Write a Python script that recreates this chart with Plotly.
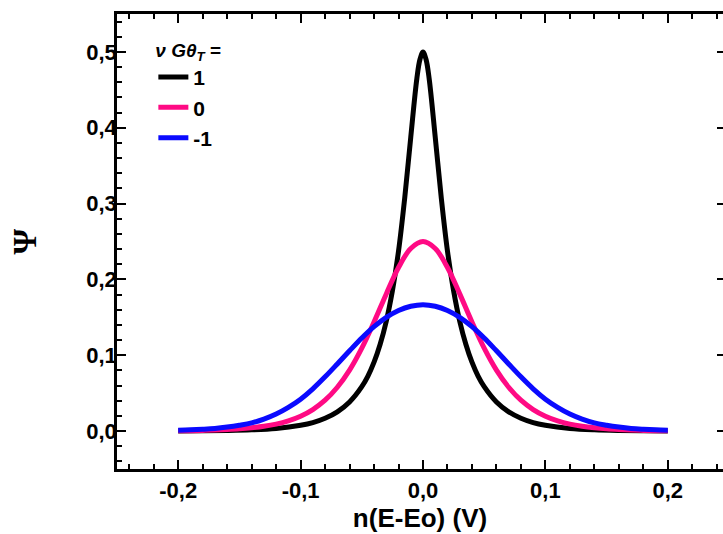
import plotly.graph_objects as go

# ---- data ----
x_black = [-0.20, -0.18, -0.16, -0.14, -0.12, -0.10, -0.09, -0.08, -0.07, -0.06, -0.05,
           -0.045, -0.04, -0.035, -0.03, -0.025, -0.02, -0.015, -0.01, -0.005, -0.0025, 0.0,
           0.0025, 0.005, 0.01, 0.015, 0.02, 0.025, 0.03, 0.035, 0.04, 0.045,
           0.05, 0.06, 0.07, 0.08, 0.09, 0.10, 0.12, 0.14, 0.16, 0.18, 0.20]
y_black = [0.00015, 0.00034, 0.00073, 0.0016, 0.0035, 0.0077, 0.0112, 0.0169, 0.0254, 0.0384, 0.0586,
           0.0726, 0.0909, 0.1145, 0.1449, 0.1851, 0.2373, 0.3065, 0.3875, 0.4652, 0.490, 0.500,
           0.490, 0.4652, 0.3875, 0.3065, 0.2373, 0.1851, 0.1449, 0.1145, 0.0909, 0.0726,
           0.0586, 0.0384, 0.0254, 0.0169, 0.0112, 0.0077, 0.0035, 0.0016, 0.00073, 0.00034, 0.00015]

x_grid = [-0.20, -0.19, -0.18, -0.17, -0.16, -0.15, -0.14, -0.13, -0.12, -0.11, -0.10,
          -0.09, -0.08, -0.07, -0.06, -0.05, -0.04, -0.03, -0.02, -0.01, 0.0,
          0.01, 0.02, 0.03, 0.04, 0.05, 0.06, 0.07, 0.08, 0.09, 0.10,
          0.11, 0.12, 0.13, 0.14, 0.15, 0.16, 0.17, 0.18, 0.19, 0.20]
y_pink = [0.0004, 0.0006, 0.0009, 0.0013, 0.0020, 0.0029, 0.0043, 0.0063, 0.0092, 0.0135, 0.0196,
          0.0284, 0.0407, 0.0578, 0.0804, 0.1094, 0.1439, 0.1809, 0.2157, 0.2408, 0.2500,
          0.2408, 0.2157, 0.1809, 0.1439, 0.1094, 0.0804, 0.0578, 0.0407, 0.0284, 0.0196,
          0.0135, 0.0092, 0.0063, 0.0043, 0.0029, 0.0020, 0.0013, 0.0009, 0.0006, 0.0004]
y_blue = [0.0011, 0.0016, 0.0024, 0.0035, 0.0053, 0.0077, 0.0108, 0.0158, 0.0225, 0.0313, 0.0421,
          0.0557, 0.0715, 0.0885, 0.1059, 0.1228, 0.1378, 0.1500, 0.1590, 0.1646, 0.1667,
          0.1646, 0.1590, 0.1500, 0.1378, 0.1228, 0.1059, 0.0885, 0.0715, 0.0557, 0.0421,
          0.0313, 0.0225, 0.0158, 0.0108, 0.0077, 0.0053, 0.0035, 0.0024, 0.0016, 0.0011]

series_names = ["1", "0", "-1"]
series_colors = ["#000000", "#ff0a84", "#0a0aff"]

x_tick_vals = [-0.2, -0.1, 0.0, 0.1, 0.2]
x_tick_text = ["-0,2", "-0,1", "0,0", "0,1", "0,2"]
y_tick_vals = [0.0, 0.1, 0.2, 0.3, 0.4, 0.5]
y_tick_text = ["0,0", "0,1", "0,2", "0,3", "0,4", "0,5"]

FONT = "Liberation Sans, Arial, sans-serif"

fig = go.Figure()
for xs, ys, name, col in [(x_black, y_black, series_names[0], series_colors[0]),
                          (x_grid, y_pink, series_names[1], series_colors[1]),
                          (x_grid, y_blue, series_names[2], series_colors[2])]:
    fig.add_trace(go.Scatter(x=xs, y=ys, mode="lines", name=name,
                             line=dict(color=col, width=5, shape="spline", smoothing=1.0)))

# helper trace for the right-hand tick marks
fig.add_trace(go.Scatter(x=[None], y=[None], yaxis="y2", showlegend=False, hoverinfo="skip"))

axis_common = dict(
    showline=True, linecolor="black", linewidth=2.5,
    ticks="inside", ticklen=9, tickwidth=2, tickcolor="black",
    showgrid=False, zeroline=False,
    tickfont=dict(family=FONT, size=22, color="black", weight="bold"),
)

fig.update_layout(
    width=723, height=534,
    margin=dict(l=117, r=0, t=14, b=65),
    plot_bgcolor="white", paper_bgcolor="white",
    xaxis=dict(
        **axis_common,
        range=[-0.25, 0.2451], tickmode="array", tickvals=x_tick_vals, ticktext=x_tick_text,
        mirror="ticks",
        minor=dict(ticks="inside", ticklen=5, tickwidth=2, tickcolor="black", dtick=0.02, tick0=0),
        title=dict(text="n(E-Eo) (V)", standoff=4,
                   font=dict(family=FONT, size=26, color="black", weight="bold")),
    ),
    yaxis=dict(
        **axis_common,
        range=[-0.05, 0.55], tickmode="array", tickvals=y_tick_vals, ticktext=y_tick_text,
        ticklabelstandoff=-7,
        mirror=False,
        minor=dict(ticks="inside", ticklen=5, tickwidth=2, tickcolor="black", dtick=0.02, tick0=0),
        title=dict(text="Ψ", standoff=40,
                   font=dict(family="Liberation Serif, DejaVu Serif, serif", size=33, color="black",
                             weight="bold")),
    ),
    yaxis2=dict(
        overlaying="y", side="right", matches="y", anchor="x",
        showline=False, showgrid=False, zeroline=False,
        ticks="inside", ticklen=6, tickwidth=2, tickcolor="black",
        tickmode="array", tickvals=y_tick_vals, showticklabels=False,
    ),
    showlegend=True,
    legend=dict(
        x=0.06, y=0.96, xanchor="left", yanchor="top",
        bgcolor="rgba(0,0,0,0)", borderwidth=0,
        font=dict(family=FONT, size=21, color="black", weight="bold"),
        title=dict(text="<i>ν</i> <i>Gθ<sub>T</sub></i> =",
                   font=dict(family=FONT, size=19, color="black", weight="bold")),
        tracegroupgap=0,
    ),
)

fig.write_html("out.html")
